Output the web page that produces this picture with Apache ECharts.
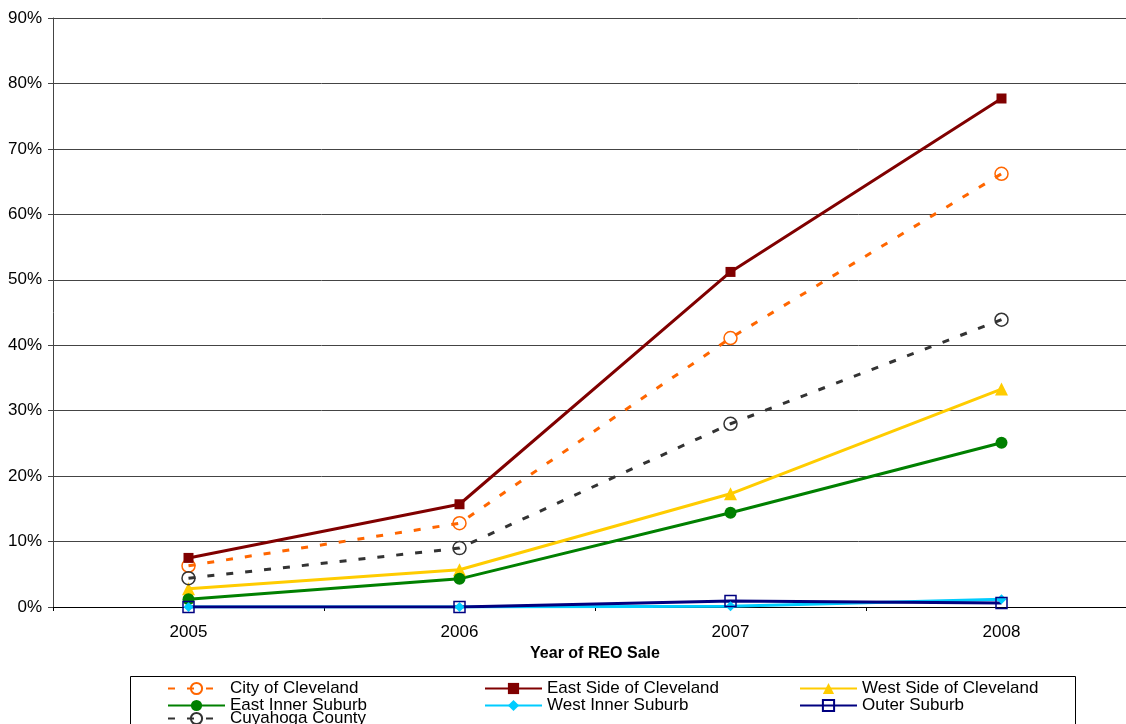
<!DOCTYPE html>
<html>
<head>
<meta charset="utf-8">
<script src="https://cdn.jsdelivr.net/npm/echarts@6/dist/echarts.min.js"></script>
<style>
  html, body { margin: 0; padding: 0; background: #fff; }
  #chart { width: 1126px; height: 724px; }
</style>
</head>
<body>
<div id="chart"></div>
<script>
// Share of REO sales by year and area (percent)
const years = ['2005', '2006', '2007', '2008'];
const cityOfCleveland   = [6.3, 12.8, 41.1, 66.2];
const eastSideCleveland = [7.5, 15.7, 51.2, 77.7];
const westSideCleveland = [2.8, 5.7, 17.3, 33.3];
const eastInnerSuburb   = [1.2, 4.3, 14.4, 25.1];
const westInnerSuburb   = [0.0, 0.0, 0.1, 1.2];
const outerSuburb       = [0.0, 0.0, 0.9, 0.6];
const cuyahogaCounty    = [4.4, 9.0, 28.0, 43.9];
const yTicks = { min: 0, max: 90, step: 10 };

const FONT = '"Liberation Sans", Arial, sans-serif';
const chart = echarts.init(document.getElementById('chart'));

function lineSeries(name, data, color, opts) {
  return Object.assign({
    name: name,
    type: 'line',
    data: data,
    symbolSize: 10,
    lineStyle: { color: color, width: 3 },
    itemStyle: { color: color },
    emphasis: { disabled: true },
    animation: false
  }, opts || {});
}

const series = [
  lineSeries('City of Cleveland', cityOfCleveland, '#FF6600', {
    symbol: 'circle', symbolSize: 13,
    lineStyle: { color: '#FF6600', width: 3, type: [7, 12] },
    itemStyle: { color: 'transparent', borderColor: '#FF6600', borderWidth: 1.5 }
  }),
  lineSeries('East Side of Cleveland', eastSideCleveland, '#800000', {
    symbol: 'rect', symbolSize: 10
  }),
  lineSeries('West Side of Cleveland', westSideCleveland, '#FFCC00', {
    symbol: 'triangle', symbolSize: 13
  }),
  lineSeries('East Inner Suburb', eastInnerSuburb, '#008000', {
    symbol: 'circle', symbolSize: 12
  }),
  lineSeries('West Inner Suburb', westInnerSuburb, '#00CCFF', {
    symbol: 'diamond', symbolSize: 10
  }),
  lineSeries('Outer Suburb', outerSuburb, '#000080', {
    symbol: 'rect', symbolSize: 11,
    itemStyle: { color: 'transparent', borderColor: '#000080', borderWidth: 1.5 }
  }),
  lineSeries('Cuyahoga County', cuyahogaCounty, '#333333', {
    symbol: 'circle', symbolSize: 13,
    lineStyle: { color: '#333333', width: 3, type: [7, 12] },
    itemStyle: { color: 'transparent', borderColor: '#333333', borderWidth: 1.5 }
  })
];

const LEGEND_TOP = 680;
const LEGEND_ROW = 15;

function legendBlock(left, top, names) {
  return {
    orient: 'vertical',
    left: left,
    top: top,
    itemWidth: 57,
    itemHeight: 14,
    itemGap: 0,
    padding: 0,
    selectedMode: false,
    data: names,
    textStyle: { fontFamily: FONT, fontSize: 17, color: '#000', lineHeight: LEGEND_ROW }
  };
}

chart.setOption({
  animation: false,
  backgroundColor: '#ffffff',
  // the last category band runs past the right edge of the canvas
  grid: { left: 53, top: 18, width: 1084, height: 589, containLabel: false, outerBoundsMode: 'none' },
  xAxis: {
    type: 'category',
    data: years,
    boundaryGap: true,
    name: 'Year of REO Sale',
    nameLocation: 'middle',
    nameGap: 28,
    nameTextStyle: { fontFamily: FONT, fontSize: 16, fontWeight: 'bold', color: '#000' },
    axisLine: { lineStyle: { color: '#000', width: 1 } },
    axisTick: { show: true, length: 4, lineStyle: { color: '#000' } },
    axisLabel: { fontFamily: FONT, fontSize: 17, color: '#000', margin: 17 },
    splitLine: { show: false }
  },
  yAxis: {
    type: 'value',
    min: yTicks.min,
    max: yTicks.max,
    interval: yTicks.step,
    axisLine: { show: true, lineStyle: { color: '#444', width: 1 } },
    axisTick: { show: true, length: 5, lineStyle: { color: '#444' } },
    axisLabel: { fontFamily: FONT, fontSize: 17, color: '#000', margin: 11, formatter: '{value}%' },
    splitLine: { show: true, lineStyle: { color: '#444', width: 1 } }
  },
  legend: [
    legendBlock(167, LEGEND_TOP, ['City of Cleveland', 'East Inner Suburb']),
    legendBlock(167, LEGEND_TOP + 2 * LEGEND_ROW, ['Cuyahoga County']),
    legendBlock(484, LEGEND_TOP, ['East Side of Cleveland', 'West Inner Suburb']),
    legendBlock(799, LEGEND_TOP, ['West Side of Cleveland', 'Outer Suburb'])
  ],
  graphic: [{
    type: 'rect',
    shape: { x: 130.5, y: 676.5, width: 945, height: 60 },
    style: { fill: 'transparent', stroke: '#000', lineWidth: 1 },
    silent: true,
    z: -1
  }],
  series: series
});
</script>
</body>
</html>
